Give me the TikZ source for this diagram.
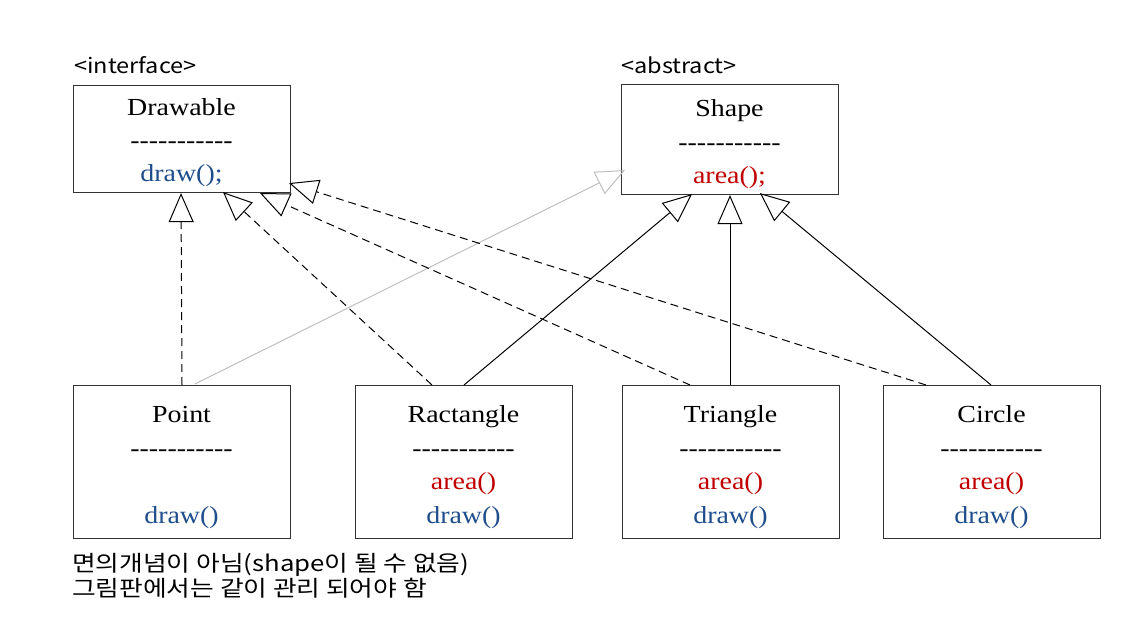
\documentclass[tikz,border=0pt]{standalone}
\usepackage{fontspec}
\setmainfont[FakeStretch=1.14,Ligatures=TeXOff]{Liberation Serif}
\newfontfamily\kfont[FakeStretch=1.12]{Noto Sans CJK KR}
\newfontfamily\knote[FakeStretch=1.17]{Noto Sans CJK KR}
\usetikzlibrary{arrows.meta}
\definecolor{dblue}{HTML}{1F4E8C}
\definecolor{dred}{HTML}{C00000}
\definecolor{lgray}{HTML}{BFBFBF}
\definecolor{boxline}{HTML}{333333}
\begin{document}
\begin{tikzpicture}[x=1pt,y=-1pt,
  box/.style={draw=boxline, line width=1.1pt, minimum width=217pt, inner sep=0pt, anchor=north west},
  txt/.style={font=\fontsize{24.5}{28}\selectfont, anchor=base, inner sep=0pt},
  lbl/.style={font=\kfont\fontsize{21}{24}\selectfont, anchor=base west, inner sep=0pt},
  note/.style={font=\knote\fontsize{22}{25}\selectfont, anchor=base west, inner sep=0pt},
  tiparr/.style={-{Triangle[open, length=29pt, width=25pt]}},
  dasharr/.style={tiparr, line width=1pt, dash pattern=on 8pt off 5pt},
  solidarr/.style={tiparr, line width=1pt},
  grayarr/.style={-{Triangle[open, length=29pt, width=25pt]}, draw=lgray, line width=1pt}
]
\useasboundingbox (0,0) rectangle (1140,628);

% boxes
\node[box, minimum height=107pt] (drawable) at (73,85) {};
\node[box, minimum height=110pt] (shape) at (621,84) {};
\node[box, minimum height=153pt] (point) at (73,385) {};
\node[box, minimum height=153pt] (rect) at (355,385) {};
\node[box, minimum height=153pt] (tri) at (622,385) {};
\node[box, minimum height=153pt] (circ) at (883,385) {};

% stereotypes
\node[lbl] (lint) at (74,74) {<interface>};
\node[lbl] (labs) at (621,74) {<abstract>};

% Drawable text
\node[txt] (dn) at (181.5,116) {Drawable};
\node[txt] (dd) at (181.5,149) {-----------};
\node[txt, text=dblue] (dm) at (181.5,182) {draw();};

% Shape text
\node[txt] (sn) at (729.5,117) {Shape};
\node[txt] (sd) at (729.5,151) {-----------};
\node[txt, text=dred] (sm) at (729.5,184) {area();};

% Point
\node[txt] (pn) at (181.5,422) {Point};
\node[txt] (pd) at (181.5,456) {-----------};
\node[txt, text=dblue] (pm) at (181.5,523) {draw()};

% Ractangle
\node[txt] (rn) at (463.5,422) {Ractangle};
\node[txt] (rd) at (463.5,456) {-----------};
\node[txt, text=dred] (ra) at (463.5,489) {area()};
\node[txt, text=dblue] (rm) at (463.5,523) {draw()};

% Triangle
\node[txt] (tn) at (730.5,422) {Triangle};
\node[txt] (td) at (730.5,456) {-----------};
\node[txt, text=dred] (ta) at (730.5,489) {area()};
\node[txt, text=dblue] (tm) at (730.5,523) {draw()};

% Circle
\node[txt] (cn) at (991.5,422) {Circle};
\node[txt] (cd) at (991.5,456) {-----------};
\node[txt, text=dred] (ca) at (991.5,489) {area()};
\node[txt, text=dblue] (cm) at (991.5,523) {draw()};

% note
\node[note] (note1) at (72,571) {면의개념이 아님(shape이 될 수 없음)};
\node[note] (note2) at (72,596) {그림판에서는 같이 관리 되어야 함};

% connectors
\draw[dasharr] ([xshift=109pt]point.north west) -- ([xshift=108pt]drawable.south west);
\draw[grayarr] ([xshift=122pt,yshift=1pt]point.north west) -- ([xshift=4pt,yshift=25pt]shape.south west);
\draw[dasharr] ([xshift=77pt]rect.north west) -- ([xshift=150pt,yshift=1pt]drawable.south west);
\draw[solidarr] ([xshift=109pt]rect.north west) -- ([xshift=71pt,yshift=1pt]shape.south west);
\draw[dasharr] ([xshift=68pt]tri.north west) -- ([xshift=187pt]drawable.south west);
\draw[solidarr] ([xshift=108pt]tri.north west) -- ([xshift=109pt]shape.south west);
\draw[dasharr] ([xshift=43pt]circ.north west) -- ([xshift=-2pt,yshift=10pt]drawable.south east);
\draw[solidarr] ([xshift=108pt]circ.north west) -- ([xshift=139pt,yshift=2pt]shape.south west);
\end{tikzpicture}
\end{document}
